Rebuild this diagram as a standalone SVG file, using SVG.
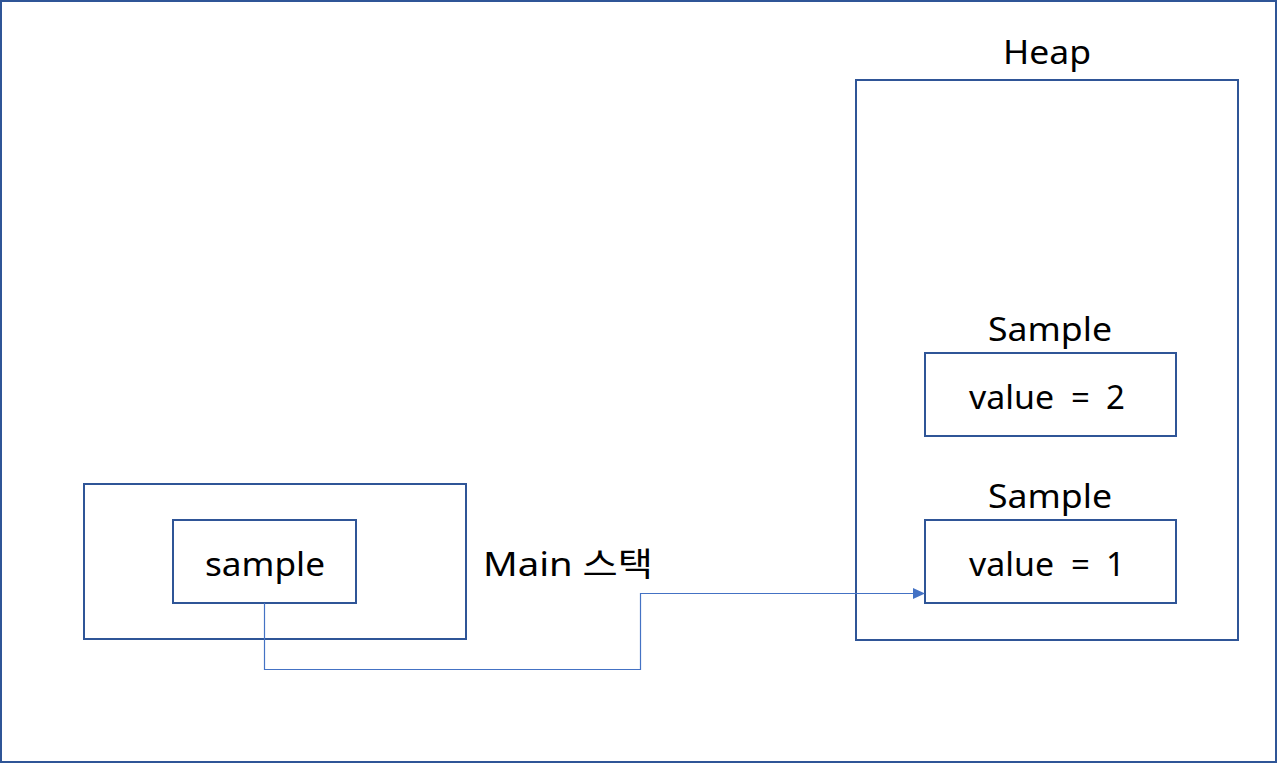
<svg xmlns="http://www.w3.org/2000/svg" width="1277" height="763" viewBox="0 0 1277 763">
<style>
.box{fill:#fff;stroke:#2F5597;stroke-width:2}
.t{font-family:"Noto Sans","Noto Sans CJK KR",sans-serif;font-size:33px;fill:#000}
.c{text-anchor:middle}
.conn{fill:none;stroke:#4472C4;stroke-width:1.2}
</style>
<defs>
<marker id="arr" markerWidth="12" markerHeight="12" refX="11" refY="6" orient="auto" markerUnits="userSpaceOnUse">
<path d="M0,0.5 L12,6 L0,11.5 Z" fill="#4472C4"/>
</marker>
</defs>
<rect x="1" y="1" width="1275" height="761" fill="#fff" stroke="#2F5597" stroke-width="2"/>
<g id="main-stack">
<rect class="box" x="84" y="484" width="382" height="155"/>
<text class="t" x="483" y="576" textLength="170" lengthAdjust="spacingAndGlyphs">Main 스택</text>
</g>
<g id="sample-var">
<rect class="box" x="173" y="520" width="183" height="83"/>
<text class="t c" x="265" y="576" textLength="120" lengthAdjust="spacingAndGlyphs">sample</text>
</g>
<g id="heap">
<rect class="box" x="856" y="80" width="382" height="560"/>
<text class="t c" x="1047" y="64" textLength="88" lengthAdjust="spacingAndGlyphs">Heap</text>
</g>
<g id="sample2">
<text class="t c" x="1050" y="341" textLength="124" lengthAdjust="spacingAndGlyphs">Sample</text>
<rect class="box" x="925" y="353" width="251" height="83"/>
<text class="t" y="409"><tspan x="969" textLength="85" lengthAdjust="spacingAndGlyphs">value</tspan><tspan x="1071">=</tspan><tspan x="1106">2</tspan></text>
</g>
<g id="sample1">
<text class="t c" x="1050" y="508" textLength="124" lengthAdjust="spacingAndGlyphs">Sample</text>
<rect class="box" x="925" y="520" width="251" height="83"/>
<text class="t" y="576"><tspan x="969" textLength="85" lengthAdjust="spacingAndGlyphs">value</tspan><tspan x="1071">=</tspan><tspan x="1106">1</tspan></text>
</g>
<g id="connectors">
<path class="conn" d="M264.5,603 V669.5 H640.5 V593.5 H924" marker-end="url(#arr)"/>
</g>
</svg>
